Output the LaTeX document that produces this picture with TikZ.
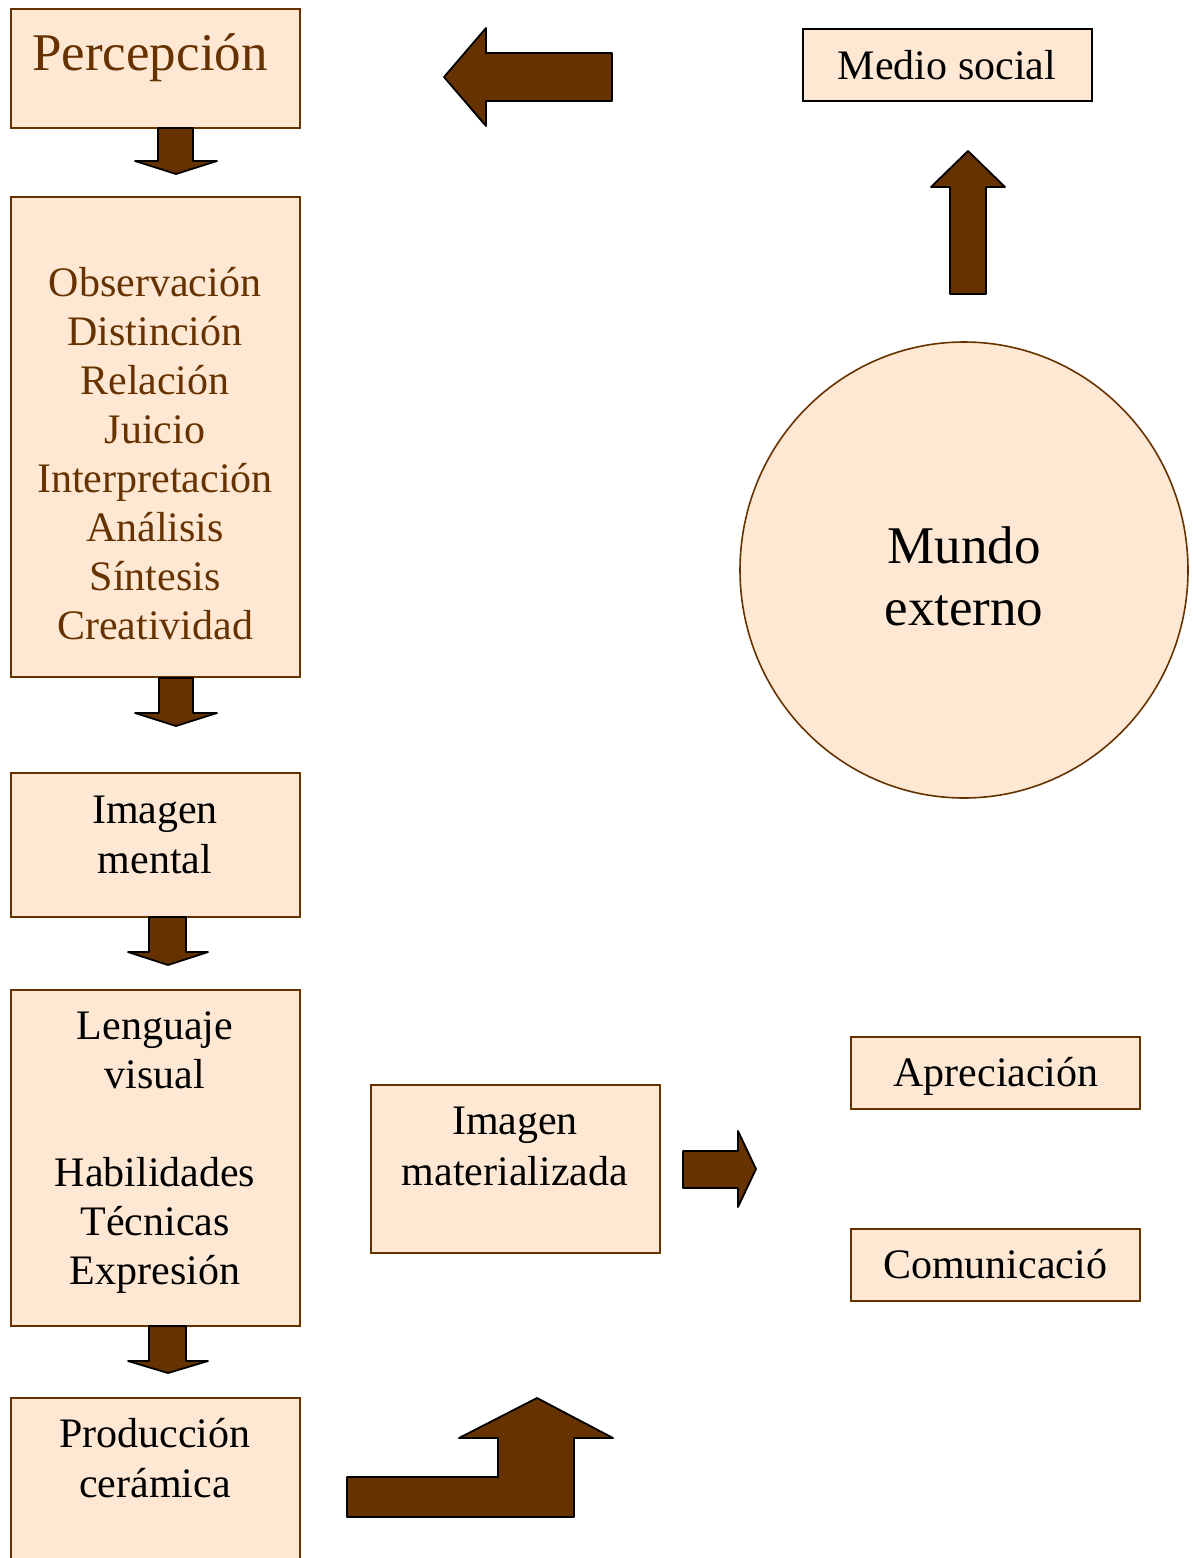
\documentclass[tikz,border=0pt]{standalone}
\usepackage{fontspec}
\setmainfont{Liberation Serif}
\definecolor{peach}{HTML}{FEE8D4}
\definecolor{brn}{HTML}{663300}
\begin{document}
\begin{tikzpicture}[x=1pt,y=-1pt,
  box/.style={draw=brn,fill=peach,line width=1.6pt},
  blk/.style={fill=brn,draw=black,line width=1.8pt,line join=round},
  txt/.style={anchor=base,inner sep=0pt,font=\fontsize{42}{49}\selectfont},
  btxt/.style={txt,text=brn},
  big/.style={anchor=base,inner sep=0pt,font=\fontsize{53}{62}\selectfont}]
\useasboundingbox (0,0) rectangle (1192,1558);
% boxes
\draw[box] (11,9) rectangle (300,128);
\draw[box] (11,197) rectangle (300,677);
\draw[box] (11,773) rectangle (300,917);
\draw[box] (11,990) rectangle (300,1326);
\draw[box] (11,1398) rectangle (300,1575);
\draw[box] (371,1085) rectangle (660,1253);
\draw[box] (851,1037) rectangle (1140,1109);
\draw[box] (851,1229) rectangle (1140,1301);
\draw[box,draw=black] (803,29) rectangle (1092,101);
\draw[box] (964,570) ellipse [x radius=224,y radius=228];
% texts
\node[big,text=brn] (perc) at (150,70) {Percepción};
\node[btxt] (l1) at (155,296) {Observación};
\node[btxt] (l2) at (155,345) {Distinción};
\node[btxt] (l3) at (155,394) {Relación};
\node[btxt] (l4) at (155,443) {Juicio};
\node[btxt] (l5) at (155,492) {Interpretación};
\node[btxt] (l6) at (155,541) {Análisis};
\node[btxt] (l7) at (155,590) {Síntesis};
\node[btxt] (l8) at (155,639) {Creatividad};
\node[txt] (im1) at (155,823) {Imagen};
\node[txt] (im2) at (155,873) {mental};
\node[txt] (lv1) at (155,1039) {Lenguaje};
\node[txt] (lv2) at (155,1088) {visual};
\node[txt] (hb1) at (155,1186) {Habilidades};
\node[txt] (hb2) at (155,1235) {Técnicas};
\node[txt] (hb3) at (155,1284) {Expresión};
\node[txt] (pc1) at (155,1447) {Producción};
\node[txt] (pc2) at (155,1497) {cerámica};
\node[txt] (mt1) at (515,1134) {Imagen};
\node[txt] (mt2) at (515,1185) {materializada};
\node[txt] (apr) at (996,1086) {Apreciación};
\node[txt] (com) at (995,1278) {Comunicació};
\node[txt] (med) at (947,79) {Medio social};
\node[big] (mu1) at (964,563) {Mundo};
\node[big] (mu2) at (964,625) {externo};
% block arrows
\draw[blk] (158,128) -- (193,128) -- (193,161) -- (217,161) -- (176,174) -- (135,161) -- (158,161) -- cycle;
\draw[blk] (159,678) -- (193,678) -- (193,713) -- (217,713) -- (176,726) -- (135,713) -- (159,713) -- cycle;
\draw[blk] (149,917) -- (186,917) -- (186,952) -- (208,952) -- (168,965) -- (128,952) -- (149,952) -- cycle;
\draw[blk] (149,1326) -- (186,1326) -- (186,1361) -- (208,1361) -- (168,1373) -- (128,1361) -- (149,1361) -- cycle;
\draw[blk] (612,53) -- (486,53) -- (486,28) -- (444,77) -- (486,126) -- (486,101) -- (612,101) -- cycle;
\draw[blk] (950,294) -- (950,187) -- (931,187) -- (968,151) -- (1005,187) -- (986,187) -- (986,294) -- cycle;
\draw[blk] (683,1151) -- (738,1151) -- (738,1131) -- (756,1169) -- (738,1207) -- (738,1188) -- (683,1188) -- cycle;
\draw[blk] (347,1517) -- (347,1477) -- (498,1477) -- (498,1438) -- (459,1438) -- (537,1398) -- (613,1438) -- (574,1438) -- (574,1517) -- cycle;
\end{tikzpicture}
\end{document}
